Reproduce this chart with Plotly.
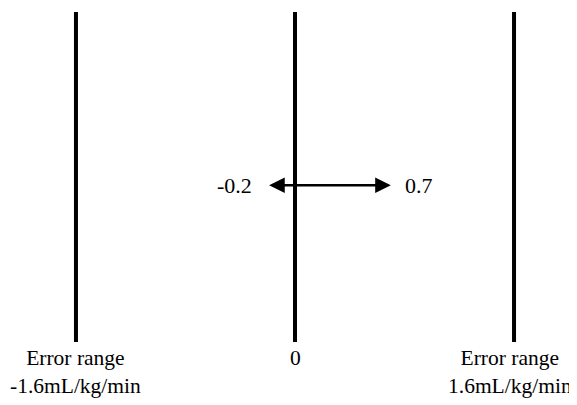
import plotly.graph_objects as go

line_positions = [-1.6, 0.0, 1.6]
line_labels = ["Error range<br>-1.6mL/kg/min", "0", "Error range<br>1.6mL/kg/min"]
arrow_low = -0.2
arrow_high = 0.7
arrow_labels = ["-0.2", "0.7"]

FONT = "Liberation Serif, Times New Roman, serif"

fig = go.Figure()
for xv in line_positions:
    fig.add_trace(go.Scatter(x=[xv, xv], y=[0, 1], mode="lines",
                             line=dict(color="black", width=4),
                             hoverinfo="skip", showlegend=False))

arrow_y = 0.475
fig.add_annotation(x=arrow_high, y=arrow_y, ax=arrow_low, ay=arrow_y,
                   xref="x", yref="y", axref="x", ayref="y",
                   text="", showarrow=True, arrowhead=2, startarrowhead=2,
                   arrowside="end+start", arrowsize=1.25, startarrowsize=1.25,
                   arrowwidth=2.5, arrowcolor="black", standoff=0, startstandoff=0)
fig.add_annotation(x=arrow_low, y=arrow_y, text=arrow_labels[0], showarrow=False,
                   xanchor="right", xshift=-14, font=dict(family=FONT, size=22, color="black"))
fig.add_annotation(x=arrow_high, y=arrow_y, text=arrow_labels[1], showarrow=False,
                   xanchor="left", xshift=12, font=dict(family=FONT, size=22, color="black"))

shifts = [0, 0, -4]
for xv, lab, sh in zip(line_positions, line_labels, shifts):
    fig.add_annotation(x=xv, y=0, text=lab, showarrow=False, yanchor="top", yshift=-2,
                       xshift=sh, font=dict(family=FONT, size=21.5, color="black"))

fig.update_layout(
    width=569, height=397,
    margin=dict(l=5, r=0, t=4, b=63),
    paper_bgcolor="white", plot_bgcolor="white",
    xaxis=dict(range=[-2.06, 2.06], visible=False),
    yaxis=dict(range=[0, 1], visible=False),
)
fig.write_html("out.html")
